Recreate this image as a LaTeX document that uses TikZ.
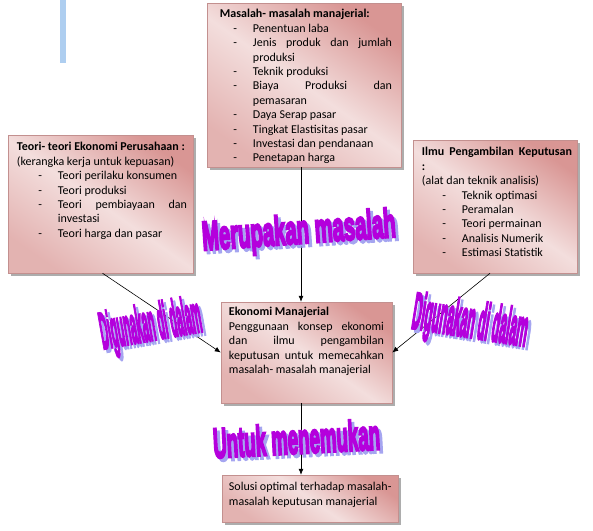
\documentclass[tikz,border=0pt]{standalone}
\usepackage{fontspec}
\usepackage{graphicx}
\setmainfont{Carlito}
\newfontfamily\wafont[FakeBold=6]{Liberation Sans Bold}
\usetikzlibrary{arrows.meta, positioning, shadows}
\definecolor{boxdark}{RGB}{217, 150, 148}
\definecolor{boxlight}{RGB}{243, 222, 221}
\definecolor{artcolor}{RGB}{180, 0, 220}
\definecolor{artshade}{RGB}{165, 165, 240}
\definecolor{barcolor}{RGB}{174, 206, 240}
\tikzstyle{notebox} = [
    rectangle,
    draw=boxdark!75!gray,
    line width=0.5pt,
    top color=boxdark,
    bottom color=boxdark!60!boxlight,
    middle color=boxlight,
    shading angle=-35,
    drop shadow={shadow xshift=3pt, shadow yshift=-3pt, fill=black!40, opacity=0.8}
]
\tikzstyle{notetext} = [
    anchor=north west,
    inner sep=0pt,
    align=justify,
    font=\fontsize{12}{14.4}\selectfont
]
\tikzstyle{arrow} = [
    -{Latex[length=6pt, width=5pt]},
    line width=0.6pt,
    color=black
]
\tikzstyle{wordart} = [inner sep=0pt, text=artcolor, font=\wafont]
\tikzstyle{wordshade} = [inner sep=0pt, text=artshade, font=\wafont]
\newcommand{\dashitem}[2]{\par\noindent\hangindent=#1\hangafter=0\llap{-\hspace{16pt}}#2\par}

\begin{document}
\begin{tikzpicture}[x=1pt, y=-1pt]
\useasboundingbox (0,0) rectangle (593,530);
\tolerance=10000 \hyphenpenalty=10000

% Blue bar at the top left
\fill[barcolor] (60,0) rectangle (66,63);

% Box 1: Masalah manajerial
\node[notebox, minimum width=194pt, minimum height=164pt] (masalah) at (304,85) {};
\node[notetext, text width=172pt] (masalahtext) at ([xshift=13pt, yshift=-6.5pt]masalah.north west) {
    \mbox{\textbf{Masalah- masalah manajerial:}}
    \dashitem{33pt}{Penentuan laba}
    \dashitem{33pt}{Jenis produk dan jumlah\linebreak produksi}
    \dashitem{33pt}{Teknik produksi}
    \dashitem{33pt}{Biaya Produksi dan\linebreak pemasaran}
    \dashitem{33pt}{Daya Serap pasar}
    \dashitem{33pt}{Tingkat Elastisitas pasar}
    \dashitem{33pt}{Investasi dan pendanaan}
    \dashitem{33pt}{Penetapan harga}
};

% Box 2: Teori ekonomi perusahaan
\node[notebox, minimum width=185pt, minimum height=138pt] (teori) at (100.5,204) {};
\node[notetext, text width=170pt] (teoritext) at ([xshift=9pt, yshift=-7.5pt]teori.north west) {
    \mbox{\textbf{Teori- teori Ekonomi Perusahaan :}}\par
    \noindent(kerangka kerja untuk kepuasan)
    \dashitem{41pt}{Teori perilaku konsumen}
    \dashitem{41pt}{Teori produksi}
    \dashitem{41pt}{Teori pembiayaan dan\linebreak investasi}
    \dashitem{41pt}{Teori harga dan pasar}
};

% Box 3: Ilmu pengambilan keputusan
\node[notebox, minimum width=164pt, minimum height=133pt] (ilmu) at (495,206.5) {};
\node[notetext, text width=150pt] (ilmutext) at ([xshift=9pt, yshift=-7.5pt]ilmu.north west) {
    \textbf{Ilmu Pengambilan Keputusan\linebreak :}\par
    \noindent(alat dan teknik analisis)
    \dashitem{40pt}{Teknik optimasi}
    \dashitem{40pt}{Peramalan}
    \dashitem{40pt}{Teori permainan}
    \dashitem{40pt}{Analisis Numerik}
    \dashitem{40pt}{Estimasi Statistik}
};

% Box 4: Ekonomi manajerial
\node[notebox, minimum width=171pt, minimum height=101pt] (ekman) at (306.5,352.5) {};
\node[notetext, text width=155pt] (ekmantext) at ([xshift=8pt, yshift=-5.5pt]ekman.north west) {
    \textbf{Ekonomi Manajerial}\par
    \noindent Penggunaan konsep ekonomi\linebreak dan ilmu pengambilan\linebreak keputusan untuk memecahkan\linebreak masalah- masalah manajerial
};

% Box 5: Solusi optimal
\node[notebox, minimum width=176pt, minimum height=47pt] (solusi) at (310,498.5) {};
\node[notetext, text width=168pt] (solusitext) at ([xshift=7pt, yshift=-7.5pt]solusi.north west) {
    Solusi optimal terhadap masalah-\\
    masalah keputusan manajerial
};

% Arrows
\coordinate (axis) at (301,0);
\draw[arrow] (masalah.south -| axis) -- (ekman.north -| axis);
\draw[arrow] ([xshift=2pt]teori.south) -- (ekman.west);
\draw[arrow] ([xshift=-5pt]ilmu.south) -- (ekman.east);
\draw[arrow] (ekman.south -| axis) -- (solusi.north -| axis);

% Word art labels
\node[wordshade, rotate=4] (merupakanshade) at (302,236) {\resizebox*{194pt}{38pt}{Merupakan masalah}};
\node[wordart, rotate=4] (merupakan) at (299,233) {\resizebox*{194pt}{38pt}{Merupakan masalah}};

\node[wordshade, rotate=10] (kirishade) at (154,330) {\resizebox*{102pt}{48pt}{Digunakan di dalam}};
\node[wordart, rotate=10] (kiri) at (151,327) {\resizebox*{102pt}{48pt}{Digunakan di dalam}};

\node[wordshade, rotate=-9] (kananshade) at (473,327) {\resizebox*{116pt}{48pt}{Digunakan di dalam}};
\node[wordart, rotate=-9] (kanan) at (470,324) {\resizebox*{116pt}{48pt}{Digunakan di dalam}};

\node[wordshade, rotate=3] (untukshade) at (299.5,441.5) {\resizebox*{167pt}{31pt}{Untuk menemukan}};
\node[wordart, rotate=3] (untuk) at (296.5,438.5) {\resizebox*{167pt}{31pt}{Untuk menemukan}};

\end{tikzpicture}
\end{document}
